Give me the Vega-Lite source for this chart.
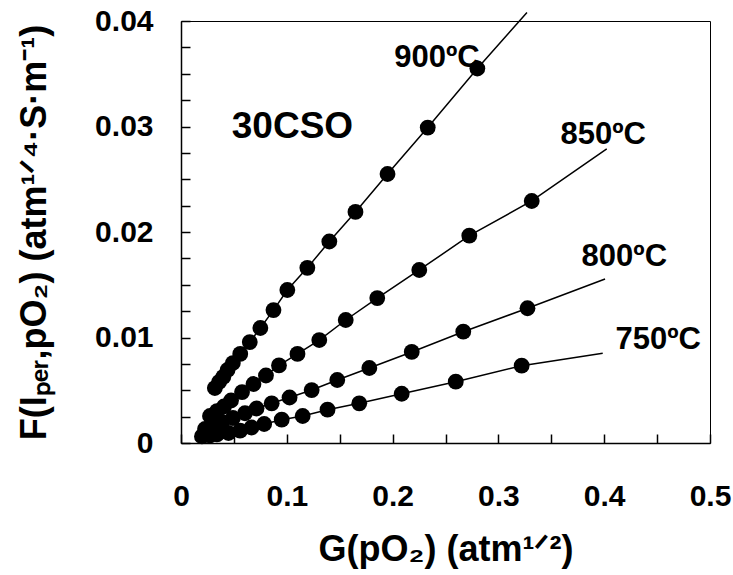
{
  "$schema": "https://vega.github.io/schema/vega-lite/v6.json",
  "width": 529,
  "height": 422,
  "autosize": {"type": "none"},
  "padding": {"left": 181, "top": 21, "right": 23, "bottom": 132},
  "background": "white",
  "config": {
    "view": {"stroke": "black", "strokeWidth": 1},
    "axis": {
      "domainColor": "black", "domainWidth": 1.5,
      "tickColor": "black", "tickWidth": 1.5, "tickSize": -9,
      "grid": false,
      "labelFont": "Liberation Sans", "labelFontWeight": "bold", "labelFontSize": 30, "labelColor": "black",
      "titleFont": "Liberation Sans", "titleFontWeight": "bold", "titleFontSize": 36, "titleColor": "black",
      "labelFlush": false, "labelOverlap": false
    },
    "text": {"font": "Liberation Sans", "fontWeight": "bold", "color": "black"}
  },
  "datasets": {
    "series": [
      {"T": "900", "kind": "pt", "x": 0.032, "y": 0.00521},
      {"T": "900", "kind": "pt", "x": 0.036, "y": 0.00578},
      {"T": "900", "kind": "pt", "x": 0.040, "y": 0.00626},
      {"T": "900", "kind": "pt", "x": 0.044, "y": 0.00692},
      {"T": "900", "kind": "pt", "x": 0.049, "y": 0.00758},
      {"T": "900", "kind": "pt", "x": 0.056, "y": 0.00844},
      {"T": "900", "kind": "pt", "x": 0.065, "y": 0.00957},
      {"T": "900", "kind": "pt", "x": 0.075, "y": 0.0109},
      {"T": "900", "kind": "pt", "x": 0.0874, "y": 0.0126},
      {"T": "900", "kind": "pt", "x": 0.1005, "y": 0.0145},
      {"T": "900", "kind": "pt", "x": 0.1194, "y": 0.0166},
      {"T": "900", "kind": "pt", "x": 0.1402, "y": 0.0191},
      {"T": "900", "kind": "pt", "x": 0.1649, "y": 0.0219},
      {"T": "900", "kind": "pt", "x": 0.1952, "y": 0.0255},
      {"T": "900", "kind": "pt", "x": 0.2332, "y": 0.0299},
      {"T": "900", "kind": "pt", "x": 0.2801, "y": 0.0355},
      {"T": "900", "kind": "end", "x": 0.327, "y": 0.0408},
      {"T": "850", "kind": "pt", "x": 0.0274, "y": 0.00256},
      {"T": "850", "kind": "pt", "x": 0.034, "y": 0.00303},
      {"T": "850", "kind": "pt", "x": 0.0406, "y": 0.00346},
      {"T": "850", "kind": "pt", "x": 0.0473, "y": 0.00403},
      {"T": "850", "kind": "pt", "x": 0.0577, "y": 0.00483},
      {"T": "850", "kind": "pt", "x": 0.0685, "y": 0.00559},
      {"T": "850", "kind": "pt", "x": 0.0803, "y": 0.0064},
      {"T": "850", "kind": "pt", "x": 0.0926, "y": 0.00735},
      {"T": "850", "kind": "pt", "x": 0.1101, "y": 0.00844},
      {"T": "850", "kind": "pt", "x": 0.1307, "y": 0.00976},
      {"T": "850", "kind": "pt", "x": 0.1557, "y": 0.01166},
      {"T": "850", "kind": "pt", "x": 0.1855, "y": 0.01374},
      {"T": "850", "kind": "pt", "x": 0.2252, "y": 0.0164},
      {"T": "850", "kind": "pt", "x": 0.2725, "y": 0.01965},
      {"T": "850", "kind": "pt", "x": 0.3315, "y": 0.02294},
      {"T": "850", "kind": "end", "x": 0.4024, "y": 0.02787},
      {"T": "800", "kind": "pt", "x": 0.0227, "y": 0.00133},
      {"T": "800", "kind": "pt", "x": 0.0293, "y": 0.00161},
      {"T": "800", "kind": "pt", "x": 0.0388, "y": 0.00199},
      {"T": "800", "kind": "pt", "x": 0.0491, "y": 0.00237},
      {"T": "800", "kind": "pt", "x": 0.0605, "y": 0.00282},
      {"T": "800", "kind": "pt", "x": 0.0714, "y": 0.00327},
      {"T": "800", "kind": "pt", "x": 0.0857, "y": 0.00376},
      {"T": "800", "kind": "pt", "x": 0.1026, "y": 0.00431},
      {"T": "800", "kind": "pt", "x": 0.1235, "y": 0.00502},
      {"T": "800", "kind": "pt", "x": 0.1477, "y": 0.00597},
      {"T": "800", "kind": "pt", "x": 0.178, "y": 0.00711},
      {"T": "800", "kind": "pt", "x": 0.2181, "y": 0.00863},
      {"T": "800", "kind": "pt", "x": 0.2668, "y": 0.01055},
      {"T": "800", "kind": "pt", "x": 0.3275, "y": 0.01277},
      {"T": "800", "kind": "end", "x": 0.4008, "y": 0.01555},
      {"T": "750", "kind": "pt", "x": 0.0198, "y": 0.00062},
      {"T": "750", "kind": "pt", "x": 0.0274, "y": 0.00071},
      {"T": "750", "kind": "pt", "x": 0.034, "y": 0.00081},
      {"T": "750", "kind": "pt", "x": 0.0449, "y": 0.00095},
      {"T": "750", "kind": "pt", "x": 0.0558, "y": 0.00118},
      {"T": "750", "kind": "pt", "x": 0.0666, "y": 0.00147},
      {"T": "750", "kind": "pt", "x": 0.0786, "y": 0.0018},
      {"T": "750", "kind": "pt", "x": 0.0952, "y": 0.00221},
      {"T": "750", "kind": "pt", "x": 0.115, "y": 0.00256},
      {"T": "750", "kind": "pt", "x": 0.1385, "y": 0.00316},
      {"T": "750", "kind": "pt", "x": 0.1685, "y": 0.00376},
      {"T": "750", "kind": "pt", "x": 0.2086, "y": 0.00467},
      {"T": "750", "kind": "pt", "x": 0.2597, "y": 0.00581},
      {"T": "750", "kind": "pt", "x": 0.322, "y": 0.00733},
      {"T": "750", "kind": "end", "x": 0.3986, "y": 0.0085}
    ],
    "labels": [
      {"x": 0.242, "y": 0.0365, "text": "900ºC"},
      {"x": 0.399, "y": 0.0292, "text": "850ºC"},
      {"x": 0.419, "y": 0.0176, "text": "800ºC"},
      {"x": 0.451, "y": 0.00976, "text": "750ºC"}
    ],
    "sample": [
      {"x": 0.048, "y": 0.030, "text": "30CSO"}
    ]
  },
  "encoding": {
    "x": {
      "field": "x", "type": "quantitative",
      "scale": {"domain": [0, 0.5], "nice": false, "zero": false},
      "axis": {
        "title": "G(pO₂) (atm¹ᐟ²)",
        "values": [0, 0.05, 0.1, 0.15, 0.2, 0.25, 0.3, 0.35, 0.4, 0.45, 0.5],
        "format": ".2~f",
        "labelExpr": "round(datum.value*20) % 2 == 0 ? datum.label : ''",
        "labelPadding": 47,
        "titlePadding": 21
      }
    },
    "y": {
      "field": "y", "type": "quantitative",
      "scale": {"domain": [0, 0.04], "nice": false, "zero": false},
      "axis": {
        "title": "F(Iₚₑᵣ,pO₂) (atm¹ᐟ⁴·S·m⁻¹)",
        "values": [0, 0.0025, 0.005, 0.0075, 0.01, 0.0125, 0.015, 0.0175, 0.02, 0.0225, 0.025, 0.0275, 0.03, 0.0325, 0.035, 0.0375, 0.04],
        "format": ".4~f",
        "labelExpr": "round(datum.value*400) % 4 == 0 ? datum.label : ''",
        "labelPadding": 37,
        "titlePadding": 41
      }
    }
  },
  "layer": [
    {
      "data": {"name": "series"},
      "mark": {"type": "line", "color": "black", "strokeWidth": 1.5},
      "encoding": {"detail": {"field": "T"}, "order": {"field": "x", "type": "quantitative"}}
    },
    {
      "data": {"name": "series"},
      "transform": [{"filter": "datum.kind == 'pt'"}],
      "mark": {"type": "point", "filled": true, "color": "black", "opacity": 1, "size": 250}
    },
    {
      "data": {"name": "labels"},
      "mark": {"type": "text", "fontSize": 31, "align": "center", "baseline": "middle"},
      "encoding": {"text": {"field": "text"}}
    },
    {
      "data": {"name": "sample"},
      "mark": {"type": "text", "fontSize": 37, "align": "left", "baseline": "middle"},
      "encoding": {"text": {"field": "text"}}
    }
  ]
}
